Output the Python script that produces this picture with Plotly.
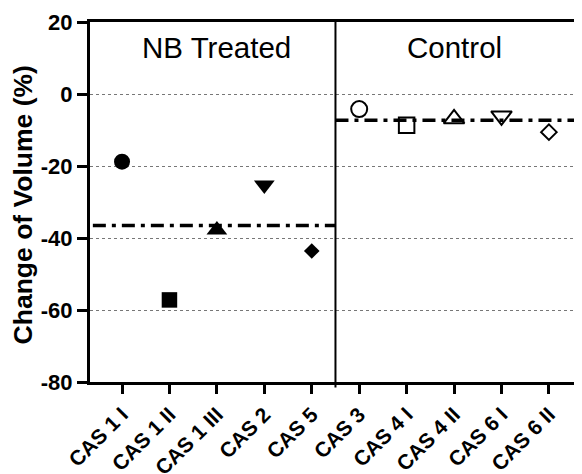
import plotly.graph_objects as go

# ---- data ----
categories = ["CAS 1 I", "CAS 1 II", "CAS 1 III", "CAS 2", "CAS 5",
              "CAS 3", "CAS 4 I", "CAS 4 II", "CAS 6 I", "CAS 6 II"]
treated_names = categories[:5]
control_names = categories[5:]
treated_values = [-18.8, -57.2, -37.8, -25.3, -43.6]
control_values = [-4.2, -8.7, -6.9, -6.1, -10.6]
treated_symbols = ["circle", "square", "triangle-up", "triangle-down", "diamond"]
control_symbols = ["circle-open", "square-open", "triangle-up-open", "triangle-down-open", "diamond-open"]
marker_sizes = [16, 15.5, 18, 18, 12]
group_labels = ["NB Treated", "Control"]
y_ticks = [-80, -60, -40, -20, 0, 20]
y_ticktext = ["-80", "-60", "-40", "-20", "0", "20"]

FONT = "Liberation Sans, Arial, sans-serif"
x_range = [-0.675, 9.655]
split = 4.5

idx = {c: i for i, c in enumerate(categories)}
treated_x = [idx[c] for c in treated_names]
control_x = [idx[c] for c in control_names]

fig = go.Figure()

fig.add_trace(go.Scatter(
    x=treated_x, y=treated_values, mode="markers",
    marker=dict(symbol=treated_symbols, size=marker_sizes, color="black", opacity=1,
                line=dict(width=0)),
    showlegend=False, cliponaxis=False))

fig.add_trace(go.Scatter(
    x=control_x, y=control_values, mode="markers",
    marker=dict(symbol=control_symbols, size=marker_sizes, color="black", opacity=1,
                line=dict(width=2, color="black")),
    showlegend=False, cliponaxis=False))

t_mean = sum(treated_values) / len(treated_values)
c_mean = sum(control_values) / len(control_values)

dash = "13px,6px,4px,6px"
fig.add_trace(go.Scatter(x=[x_range[0] + 0.06, split], y=[t_mean, t_mean], mode="lines",
                         line=dict(color="black", width=3.5, dash=dash),
                         showlegend=False, hoverinfo="skip"))
fig.add_trace(go.Scatter(x=[split, x_range[1]], y=[c_mean, c_mean], mode="lines",
                         line=dict(color="black", width=3.5, dash=dash),
                         showlegend=False, hoverinfo="skip"))

# separator and right border
fig.add_shape(type="line", xref="x", yref="paper", x0=split, x1=split, y0=-0.015, y1=1,
              line=dict(color="black", width=2))
fig.add_shape(type="line", xref="paper", yref="paper", x0=1, x1=1, y0=0, y1=1,
              line=dict(color="#888", width=1))

# group labels
fig.add_annotation(x=sum(treated_x) / len(treated_x), y=12.8, text=group_labels[0],
                   showarrow=False, font=dict(family=FONT, size=29.5, color="black"))
fig.add_annotation(x=sum(control_x) / len(control_x), y=12.8, text=group_labels[1],
                   showarrow=False, font=dict(family=FONT, size=29.5, color="black"))

# y title
fig.add_annotation(xref="paper", yref="paper", x=-0.137, y=0.493, xanchor="center", yanchor="middle",
                   text="Change of Volume (%)", textangle=-90, showarrow=False,
                   font=dict(family=FONT, size=26.5, color="black", weight="bold"))

# the page body adds an 8px offset; figure is sized to fill the rest of the window
fig.update_layout(
    width=574, height=466,
    margin=dict(l=82, r=1.5, t=14, b=92, autoexpand=False),
    plot_bgcolor="white", paper_bgcolor="white",
    xaxis=dict(range=x_range, tickmode="array", tickvals=list(range(len(categories))),
               ticktext=categories, tickangle=-45,
               showline=True, linecolor="black", linewidth=3, mirror=True,
               ticks="outside", ticklen=9, tickwidth=3, tickcolor="black",
               showgrid=False, zeroline=False,
               tickfont=dict(family=FONT, size=21, color="black", weight="bold")),
    yaxis=dict(range=[-80, 20], tickmode="array", tickvals=y_ticks, ticktext=y_ticktext,
               showline=True, linecolor="black", linewidth=3,
               ticks="outside", ticklen=10, tickwidth=3, tickcolor="black",
               showgrid=True, gridcolor="#777", griddash="dot", gridwidth=1,
               zeroline=False,
               tickfont=dict(family=FONT, size=22, color="black", weight="bold")),
)

fig.write_html("out.html")
